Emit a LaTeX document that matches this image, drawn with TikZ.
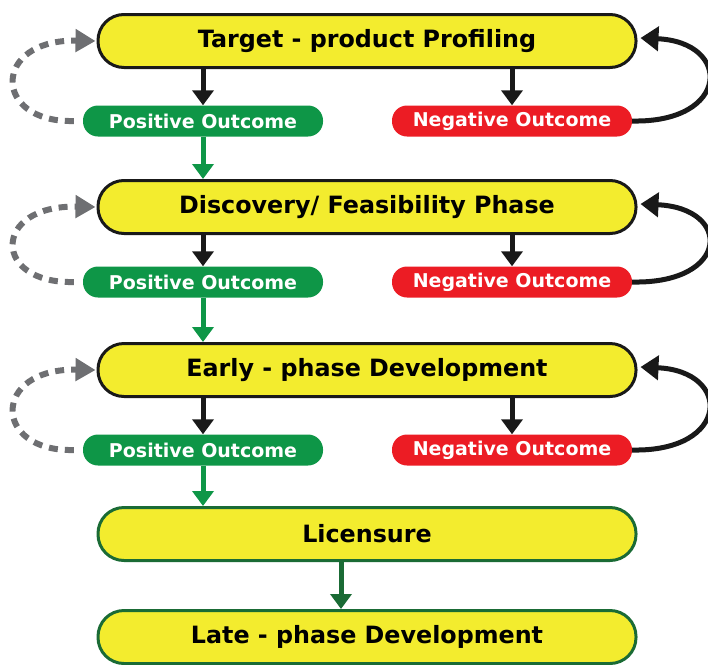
\documentclass[tikz,border=0pt]{standalone}
\usepackage{fontspec}
\setmainfont{DejaVu Sans}
\usetikzlibrary{arrows.meta}

\definecolor{phaseyellow}{HTML}{F3EC2E}
\definecolor{posgreen}{HTML}{0E9647}
\definecolor{negred}{HTML}{EC1C24}
\definecolor{darkgreen}{HTML}{1A6B35}
\definecolor{loopgray}{HTML}{6E6F72}

\tikzset{
	phase/.style={draw=black!90, line width=3pt, fill=phaseyellow, rounded corners=26pt,
		minimum width=538pt, minimum height=53pt, inner sep=0pt,
		font=\bfseries\fontsize{23.8}{28}\selectfont},
	finalphase/.style={phase, draw=darkgreen},
	outcome/.style={text=white, rounded corners=15pt, minimum width=240pt, minimum height=31pt,
		inner sep=0pt, font=\bfseries\fontsize{19}{22}\selectfont},
	posbox/.style={outcome, fill=posgreen},
	negbox/.style={outcome, fill=negred},
	down/.style={-{Triangle[width=21pt,length=15pt]}, line width=5pt},
	retry/.style={-{Triangle[width=22pt,length=20pt]}, line width=6pt, loopgray, dash pattern=on 9pt off 7pt},
	rework/.style={-{Triangle[width=24pt,length=18pt]}, line width=5pt, black!90}
}

\begin{document}
\begin{tikzpicture}[x=1pt, y=-1pt]
		\useasboundingbox (0,0) rectangle (708,664);
		
		%phases
		\node[phase] (phase1) at (367,41){Target - product Profiling};
		\node[phase] (phase2) at (367,207){Discovery/ Feasibility Phase};
		\node[phase] (phase3) at (367,370){Early - phase Development};
		\node[finalphase] (phase4) at (367,534){Licensure};
		\node[finalphase] (late) at (367,637){Late - phase Development};
		
		%outcomes
		\foreach \n/\y in {1/121, 2/282, 3/450}{
			\pgfmathtruncatemacro{\m}{\n+1}
			\node[posbox] (pos\n) at (203,\y){Positive Outcome};
			\node[negbox] (neg\n) at (512,\y){Negative Outcome};
			\draw[down, black!90] (phase\n.south -| pos\n.north) -- (pos\n.north);
			\draw[down, black!90] (phase\n.south -| neg\n.north) -- (neg\n.north);
			\draw[down, posgreen] (pos\n.south) -- (pos\n.south |- phase\m.north);
			\draw[retry] ([xshift=-9pt]pos\n.west) .. controls +(-82,2) and +(-104,-2) .. ([xshift=-1pt]phase\n.west);
			\draw[rework] (neg\n.east) .. controls +(98,2) and +(92,4) .. ([xshift=3pt,yshift=3pt]phase\n.east);
		}
		
		\draw[down, darkgreen] ([xshift=-26pt]phase4.south) -- ([xshift=-26pt]late.north);
		\end{tikzpicture}
\end{document}
